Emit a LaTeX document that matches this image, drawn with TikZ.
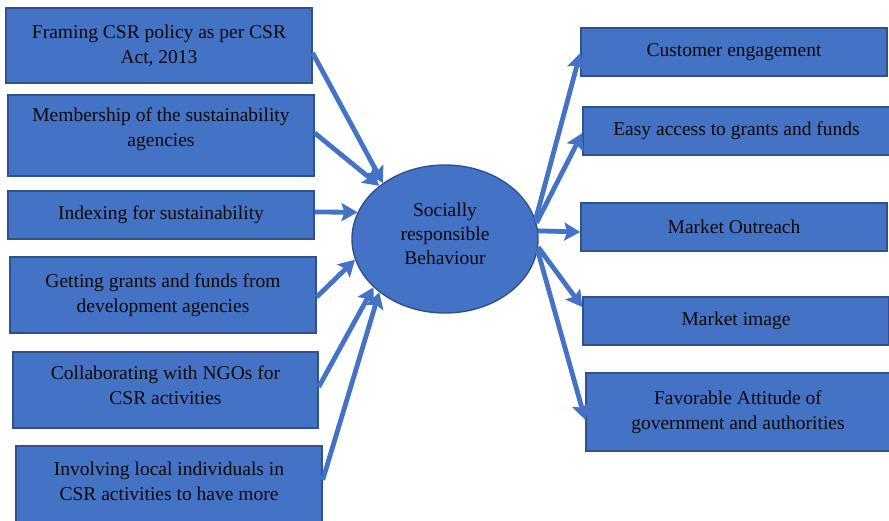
\documentclass[tikz,border=0pt]{standalone}
\usepackage{fontspec}
\setmainfont{Liberation Serif}
\usetikzlibrary{arrows.meta,shapes.geometric}
\definecolor{boxfill}{HTML}{4472C4}
\definecolor{boxline}{HTML}{2F528F}
\definecolor{txt}{HTML}{0A0A0A}
\newcommand{\liftlines}[2]{\raisebox{#1}[0pt][0pt]{\begin{tabular}{@{}c@{}}#2\end{tabular}}}
\tikzset{
  box/.style={draw=boxline, fill=boxfill, line width=1.4pt, rectangle, inner sep=0pt,
    align=center, text=txt, font=\fontsize{19.5}{25}\selectfont},
  hub/.style={draw=boxline, fill=boxfill, line width=1.4pt, ellipse, inner sep=0pt,
    minimum width=186pt, minimum height=148pt, align=center, text=txt,
    font=\fontsize{19.5}{24}\selectfont},
  conn/.style={draw=boxfill, line width=4.8pt,
    -{Stealth[length=16pt,width=18pt,inset=3pt]}}
}
\begin{document}
\begin{tikzpicture}[x=1pt,y=-1pt]
\clip (0,0) rectangle (889,520);
\fill[white] (0,0) rectangle (889,520);
% left boxes
\node[box, minimum width=306pt, minimum height=75pt] (L1) at (159,45.5) {Framing CSR policy as per CSR\\Act, 2013};
\node[box, minimum width=306pt, minimum height=81pt] (L2) at (161,135.5) {\liftlines{1pt}{Membership of the sustainability\\agencies}};
\node[box, minimum width=306pt, minimum height=48pt] (L3) at (161,215) {Indexing for sustainability};
\node[box, minimum width=306pt, minimum height=76pt] (L4) at (163,295) {Getting grants and funds from\\development agencies};
\node[box, minimum width=305pt, minimum height=76pt] (L5) at (165.5,390) {\liftlines{-2.4pt}{Collaborating with NGOs for\\CSR activities}};
\node[box, minimum width=306pt, minimum height=80pt] (L6) at (169,486) {\liftlines{-2pt}{Involving local individuals in\\CSR activities to have more}};
% hub
\node[hub] (E) at (445,239) {\liftlines{-2pt}{Socially\\responsible\\Behaviour}};
% right boxes
\node[box, minimum width=306pt, minimum height=48pt] (R1) at (734,52) {Customer engagement};
\node[box, minimum width=307pt, minimum height=48pt] (R2) at (736.5,131) {Easy access to grants and funds};
\node[box, minimum width=306pt, minimum height=48pt] (R3) at (734,227) {Market Outreach};
\node[box, minimum width=306pt, minimum height=48pt] (R4) at (736,321) {Market image};
\node[box, minimum width=304pt, minimum height=78pt] (R5) at (738,412) {Favorable Attitude of\\government and authorities};
% connectors left
\draw[conn] ([yshift=-7.5pt]L1.east) -- (E.138);
\draw[conn] ([yshift=2.5pt]L2.east) -- (E.141);
\draw[conn] ([yshift=3pt]L3.east) -- (E.163);
\draw[conn] ([yshift=-2pt]L4.east) -- (E.193);
\draw[conn] ([yshift=3pt]L5.east) -- (E.214);
\draw[conn] ([yshift=6pt]L6.east) -- (E.219);
% connectors right
\draw[conn] (E.12) -- ([yshift=-1pt]R1.west);
\draw[conn] (E.10) -- ([yshift=-2pt]R2.west);
\draw[conn] (E.5) -- ([yshift=-5pt]R3.west);
\draw[conn] (E.355) -- ([yshift=14pt]R4.west);
\draw[conn] (E.353) -- ([yshift=-8pt]R5.west);
\end{tikzpicture}
\end{document}
